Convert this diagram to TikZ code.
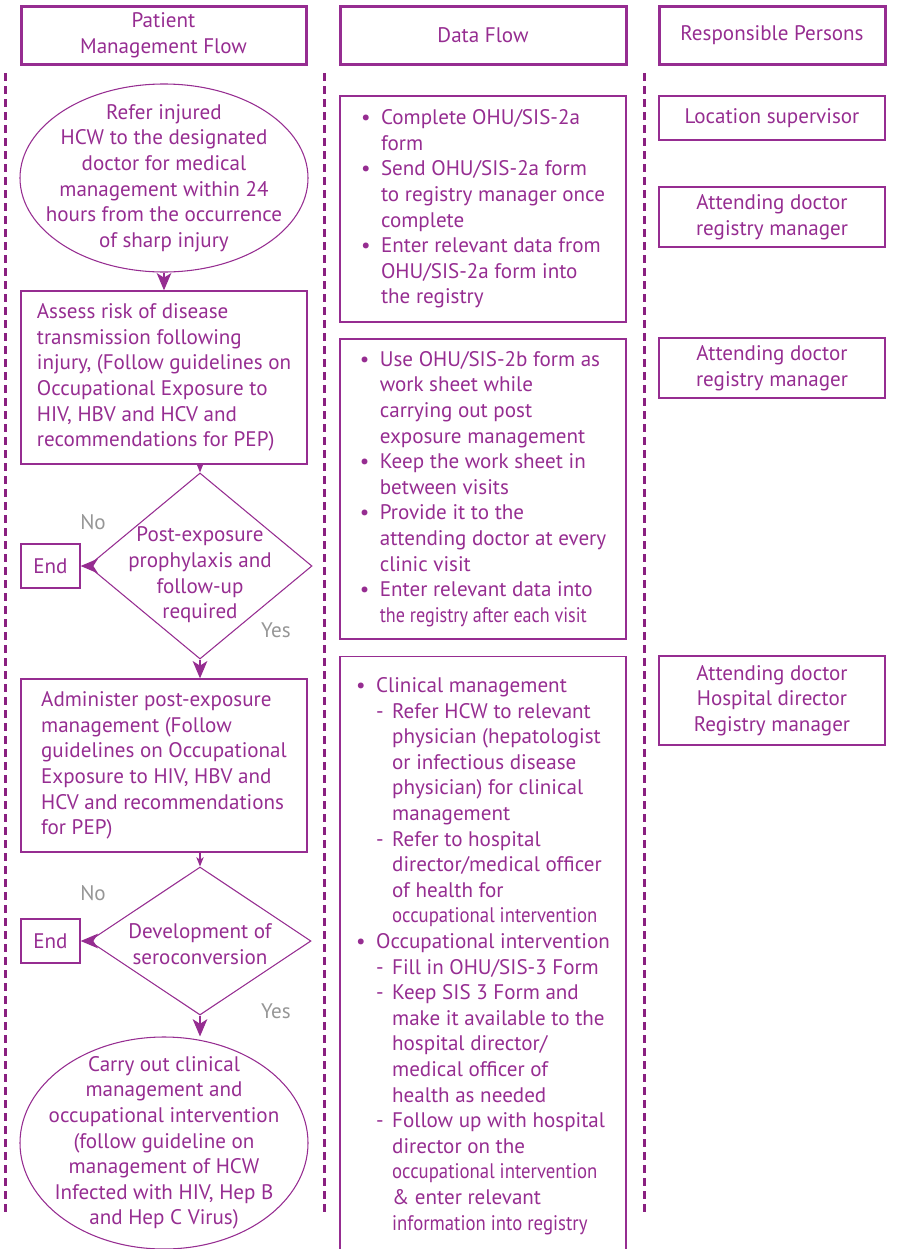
\documentclass[tikz,border=0pt]{standalone}
\usepackage{fontspec}
\setmainfont{PT Sans}
\usepackage{graphicx}
\usetikzlibrary{shapes.geometric,arrows.meta}

\definecolor{flowColor}{RGB}{150,45,145}
\definecolor{laneColor}{RGB}{138,32,128}
\definecolor{answerColor}{RGB}{150,150,150}

\newcommand{\bul}{\makebox[15pt][l]{\textbullet}}
\newcommand{\hang}{\hspace*{15pt}}
\newcommand{\subdash}{\makebox[12pt][l]{-}}
\newcommand{\subhang}{\hspace*{27pt}}
\newcommand{\squeeze}[2][0.89]{\scalebox{#1}[1]{#2}}

\tikzset{
  headBox/.style={draw=flowColor, line width=2.25pt, minimum height=43.5pt, align=center, inner sep=0pt},
  stepBox/.style={draw=flowColor, line width=1pt, align=left, minimum width=214.5pt, inner sep=0pt},
  ovalBox/.style={ellipse, draw=flowColor, line width=0.8pt, inner sep=0pt, minimum width=216pt},
  decision/.style={diamond, draw=flowColor, line width=0.8pt, inner sep=0pt},
  endBox/.style={draw=flowColor, line width=1pt, minimum width=44.25pt, minimum height=33pt, inner sep=0pt},
  personBox/.style={draw=flowColor, line width=1pt, minimum width=169.5pt, align=center, inner sep=0pt},
  answer/.style={text=answerColor},
  laneLine/.style={draw=laneColor, line width=2.25pt, dash pattern=on 6pt off 3.75pt},
  flowArrow/.style={draw=flowColor, line width=0.8pt, -{Stealth[length=13pt,width=11pt,inset=3.5pt]}},
  shortArrow/.style={draw=flowColor, line width=0.8pt, -{Stealth[length=7pt,width=5.5pt,inset=2pt]}}
}

\begin{document}
\begin{tikzpicture}[x=0.75pt, y=-0.75pt, font=\fontsize{15.8pt}{19.2pt}\selectfont, text=flowColor]
  \useasboundingbox (0,0) rectangle (896,1249);
  % Headers
  \node[headBox, minimum width=213.75pt] (patHead) at (163.5,35) {Patient\\Management Flow};
  \node[headBox, minimum width=214.5pt] (dataHead) at (483,35) {Data Flow};
  \node[headBox, minimum width=169.5pt] (respHead) at (772,35) {Responsible Persons};
  % Lanes
  \draw[laneLine] (5,73) -- (5,1214);
  \draw[laneLine] (324,73) -- (324,1214);
  \draw[laneLine] (644,73) -- (644,1214);

  % Patient management flow
  \node[ovalBox, minimum height=141pt] (refer) at (164,178) {};
  \node[align=center] (referText) at (refer) {Refer injured\\HCW to the designated\\doctor for medical\\management within 24\\hours from the occurrence\\of sharp injury};
  \node[stepBox, minimum height=129.75pt] (assess) at (164,377.5) {Assess risk of disease\\transmission following\\injury, (Follow guidelines on\\Occupational Exposure to\\HIV, HBV and HCV and\\recommendations for PEP)};
  \node[decision, minimum width=168pt, minimum height=139.5pt] (postExp) at (200,566) {};
  \node[align=center] (postExpText) at (200,575) {Post-exposure\\prophylaxis and\\follow-up\\required};
  \node[endBox] (endA) at (50.5,566) {End};
  \node[answer] (noA) at (93,522) {No};
  \node[answer] (yesA) at (276,630) {Yes};
  \node[stepBox, minimum height=129.75pt] (admin) at (164,765.5) {Administer post-exposure\\management (Follow\\guidelines on Occupational\\Exposure to HIV, HBV and\\HCV and recommendations\\for PEP)};
  \node[decision, minimum width=166.5pt, minimum height=111pt] (seroConv) at (200,941) {};
  \node[align=center] (seroConvText) at (200,944) {Development of\\seroconversion};
  \node[endBox] (endB) at (50.5,941) {End};
  \node[answer] (noB) at (93,893) {No};
  \node[answer] (yesB) at (276,1011) {Yes};
  \node[ovalBox, minimum height=159pt] (carry) at (164,1143) {};
  \node[align=center] (carryText) at (164,1143) {Carry out clinical\\management and\\occupational intervention\\(follow guideline on\\management of HCW\\Infected with HIV, Hep B\\and Hep C Virus)};

  \draw[flowArrow] (refer) -- (assess);
  \draw[shortArrow] (assess.south -| postExp.north) -- (postExp.north);
  \draw[flowArrow] (postExp.west) -- (endA.east);
  \draw[flowArrow] (postExp.south) -- (postExp.south |- admin.north);
  \draw[shortArrow] (admin.south -| seroConv.north) -- (seroConv.north);
  \draw[flowArrow] (seroConv.west) -- (endB.east);
  \draw[flowArrow] (seroConv.south) -- (seroConv.south |- carry.north);

  % Data flow
  \node[stepBox, minimum height=169.5pt] (formA) at (483,209) {\bul Complete OHU/SIS-2a\\\hang form\\\bul Send OHU/SIS-2a form\\\hang to registry manager once\\\hang complete\\\bul Enter relevant data from\\\hang OHU/SIS-2a form into\\\hang the registry};
  \node[stepBox, minimum height=225pt] (formB) at (483,489) {\bul Use OHU/SIS-2b form as\\\hang work sheet while\\\hang carrying out post\\\hang exposure management\\\bul Keep the work sheet in\\\hang between visits\\\bul Provide it to the\\\hang attending doctor at every\\\hang clinic visit\\\bul Enter relevant data into\\\hang \squeeze[0.86]{the registry after each visit}};
  \node[stepBox, anchor=north, minimum height=449pt] (formC) at (483,656) {\bul Clinical management\\\hang\subdash Refer HCW to relevant\\\subhang physician (hepatologist\\\subhang or infectious disease\\\subhang physician) for clinical\\\subhang management\\\hang\subdash Refer to hospital\\\subhang director/medical officer\\\subhang of health for\\\subhang \squeeze{occupational intervention}\\\bul Occupational intervention\\\hang\subdash Fill in OHU/SIS-3 Form\\\hang\subdash Keep SIS 3 Form and\\\subhang make it available to the\\\subhang hospital director/\\\subhang medical officer of\\\subhang health as needed\\\hang\subdash Follow up with hospital\\\subhang director on the\\\subhang \squeeze{occupational intervention}\\\subhang \& enter relevant\\\subhang \squeeze{information into registry}};

  % Responsible persons
  \node[personBox, minimum height=33pt] (locSup) at (772,118) {Location supervisor};
  \node[personBox, minimum height=45pt] (docRegA) at (772,217) {Attending doctor\\registry manager};
  \node[personBox, minimum height=45pt] (docRegB) at (772,368) {Attending doctor\\registry manager};
  \node[personBox, minimum height=66.75pt] (docHosp) at (772,700.5) {Attending doctor\\Hospital director\\Registry manager};
\end{tikzpicture}
\end{document}
